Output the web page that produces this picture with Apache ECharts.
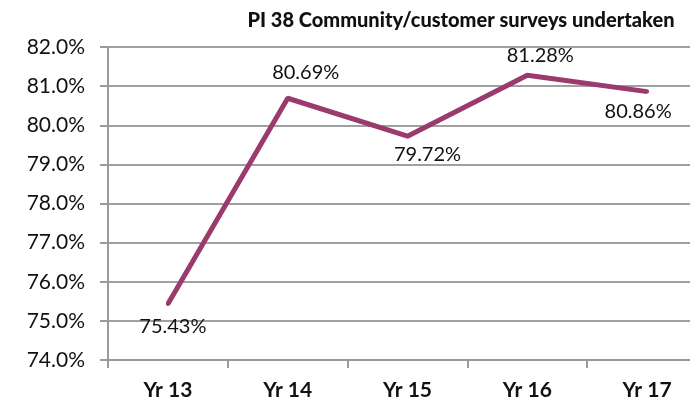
<!DOCTYPE html>
<html><head><meta charset="utf-8">
<script src="https://cdn.jsdelivr.net/npm/echarts@6/dist/echarts.min.js"></script>
<style>html,body{margin:0;padding:0;background:#fff}#c{width:690px;height:403px}</style>
</head><body><div id="c"></div>
<script>
const categories = ['Yr 13','Yr 14','Yr 15','Yr 16','Yr 17'];
const values = [75.43, 80.69, 79.72, 81.28, 80.86];
const labelPos = ['bottom','top','bottom','top','bottom'];
const labelOffset = [[5,2],[18,-6],[20,-2],[13,0],[-9,0]];
const titleText = 'PI 38 Community/customer surveys undertaken';
const FONT = 'Lato';
const chart = echarts.init(document.getElementById('c'));
chart.setOption({
  animation:false,
  title:{text:titleText,left:456,top:6,textAlign:'center',textStyle:{fontFamily:FONT,fontWeight:900,fontSize:20,color:'#111'}},
  grid:{left:108,top:47,width:599,height:313,containLabel:false,outerBoundsMode:'none'},
  xAxis:{type:'category',data:categories,boundaryGap:true,
    axisLine:{lineStyle:{color:'#9a9a9a',width:2}},
    axisTick:{show:true,length:8,lineStyle:{color:'#9a9a9a',width:2},inside:false},
    axisLabel:{fontFamily:FONT,fontWeight:'bold',fontSize:21,color:'#111',margin:20}},
  yAxis:{type:'value',min:74,max:82,interval:1,
    axisLine:{show:true,lineStyle:{color:'#9a9a9a',width:2}},
    axisTick:{show:true,length:8,lineStyle:{color:'#9a9a9a',width:2}},
    splitLine:{lineStyle:{color:'#a0a0a0',width:2}},
    axisLabel:{fontFamily:FONT,fontSize:21,color:'#111',margin:23,formatter:v=>v.toFixed(1)+'%'}},
  series:[{type:'line',data:values.map((v,i)=>({value:v,label:{show:true,position:labelPos[i],offset:labelOffset[i]}})),
    symbol:'circle',symbolSize:4,showSymbol:true,itemStyle:{color:'#9b3a6c'},
    lineStyle:{color:'#9b3a6c',width:5},
    label:{show:true,fontFamily:FONT,fontSize:20,color:'#111',distance:8,formatter:p=>Number(p.value).toFixed(2)+'%'}}]
});
</script></body></html>
